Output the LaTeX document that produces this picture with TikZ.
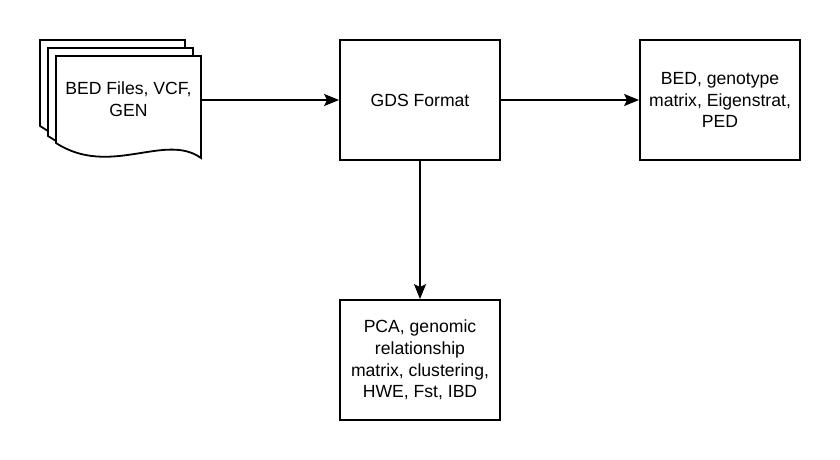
\documentclass[tikz,border=0pt]{standalone}
\usepackage{fontspec}
\setmainfont{Liberation Sans}
\usetikzlibrary{arrows.meta}
\begin{document}
\begin{tikzpicture}[x=1pt,y=-1pt,
  box/.style={draw, line width=1.8pt, minimum width=160pt, minimum height=120pt, inner sep=0pt},
  lbl/.style={align=center, font=\fontsize{17.6pt}{21.6pt}\selectfont},
  page/.style={draw, line width=1.8pt, fill=white, line join=miter},
  conn/.style={line width=1.8pt, -{Stealth[length=15pt,width=12pt,inset=3pt]}}]
\useasboundingbox (0,0) rectangle (840,460);
% stacked documents
\draw[page] (40,126) -- (40,40) -- (185,40) -- (185,48) -- (48,48) -- (48,131) -- cycle;
\draw[page] (48,136) -- (48,48) -- (193,48) -- (193,56) -- (56,56) -- (56,141) -- cycle;
\draw[page] (56,143) -- (56,56) -- (201,56) -- (201,158)
  .. controls (165,132) and (110,178) .. (56,143) -- cycle;
\node[lbl, inner sep=0pt, minimum width=145pt, minimum height=87pt] (docs) at (128.5,99.5) {BED Files, VCF,\\GEN};
\coordinate (docsE) at (201,100);
\node[box] (gds) at (420,100) {};
\node[lbl] at (gds.center) {GDS Format};
\node[box] (out) at (720,100) {};
\node[lbl] at (out.center) {BED, genotype\\matrix, Eigenstrat,\\PED};
\node[box] (ana) at (420,360) {};
\node[lbl] at (ana.center) {PCA, genomic\\relationship\\matrix, clustering,\\HWE, Fst, IBD};
\draw[conn] (docsE) -- (gds.west);
\draw[conn] (gds.east) -- (out.west);
\draw[conn] (gds.south) -- (ana.north);
\end{tikzpicture}
\end{document}
